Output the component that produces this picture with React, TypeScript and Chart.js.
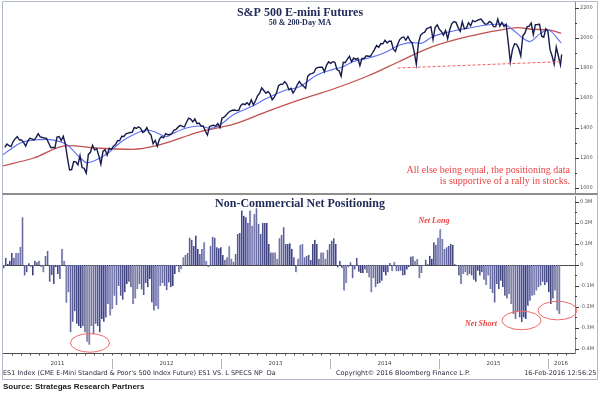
import React, { useEffect, useRef } from "react";
import { Chart, registerables } from "chart.js";

Chart.register(...registerables);

// ---------------- Axis / category data ----------------
const X_MIN = 2011;
const X_MAX = 2016.2477;
const yearLabels = ["2011", "2012", "2013", "2014", "2015", "2016"];
const yearLabelPos = [2011.5, 2012.5, 2013.5, 2014.5, 2015.5, 2016.12];
const yearStarts = [2012, 2013, 2014, 2015, 2016];
const MONTHS = 12;

const priceTicks = [1000, 1200, 1400, 1600, 1800, 2000, 2200];
const priceMinorTicks = [1100, 1300, 1500, 1700, 1900, 2100];
const netTicks = [-0.4, -0.3, -0.2, -0.1, 0, 0.1, 0.2, 0.3];
const netTickLabels = ["-0.4M", "-0.3M", "-0.2M", "-0.1M", "0", "0.1M", "0.2M", "0.3M"];
const netMinorTicks = [-0.35, -0.25, -0.15, -0.05, 0.05, 0.15, 0.25];

// ---------------- ES1 weekly (Friday) values ----------------
const price2011 = [1271, 1293, 1283, 1276, 1310, 1329, 1343, 1320, 1321, 1304, 1279, 1313, 1332, 1328, 1319, 1337, 1363, 1340, 1337, 1333, 1331, 1300, 1270, 1271, 1268, 1339, 1343, 1316, 1345, 1292, 1199, 1120, 1123, 1176, 1174, 1154, 1216, 1136, 1131, 1099, 1224, 1238, 1285, 1253, 1263, 1216, 1159, 1244, 1255, 1219, 1265, 1258];
const price2012 = [1278, 1289, 1315, 1316, 1345, 1343, 1361, 1366, 1370, 1371, 1404, 1397, 1408, 1398, 1370, 1379, 1403, 1369, 1353, 1295, 1318, 1278, 1325, 1343, 1335, 1362, 1355, 1357, 1363, 1386, 1391, 1406, 1418, 1411, 1407, 1438, 1466, 1460, 1441, 1461, 1429, 1433, 1412, 1414, 1380, 1353, 1409, 1416, 1418, 1413, 1430, 1402];
const price2013 = [1466, 1472, 1486, 1503, 1513, 1518, 1520, 1516, 1518, 1551, 1561, 1556, 1569, 1553, 1588, 1555, 1582, 1614, 1633, 1667, 1650, 1631, 1643, 1626, 1588, 1606, 1631, 1680, 1692, 1691, 1709, 1691, 1655, 1664, 1633, 1655, 1688, 1710, 1691, 1678, 1665, 1745, 1759, 1762, 1770, 1798, 1804, 1806, 1805, 1775, 1818, 1841];
const price2014 = [1831, 1842, 1838, 1790, 1782, 1745, 1838, 1836, 1859, 1878, 1841, 1866, 1857, 1865, 1815, 1864, 1863, 1881, 1878, 1878, 1900, 1924, 1950, 1937, 1963, 1961, 1985, 1967, 1978, 1978, 1925, 1910, 1955, 1988, 2003, 2007, 1985, 2010, 1982, 1967, 1906, 1825, 1964, 2018, 2032, 2039, 2063, 2067, 2075, 1990, 2070, 2088];
const price2015 = [2058, 2044, 2019, 2051, 1995, 2055, 2096, 2110, 2104, 2071, 2045, 2108, 2061, 2067, 2102, 2081, 2117, 2108, 2116, 2123, 2126, 2107, 2092, 2094, 2110, 2101, 2076, 2076, 2126, 2079, 2104, 2077, 2091, 1971, 1840, 1921, 1961, 1958, 1931, 1880, 2015, 2033, 2075, 2079, 2099, 2023, 2089, 2090, 2092, 2012, 2005, 2061];
const price2016 = [2044, 1922, 1880, 1825, 1940, 1880, 1820];
const lastPriceDay = 1872; // 16-Feb-2016, days after 1-Jan-2011
const lastPrice = 1890;

// ---------------- Moving averages (decimal year, value) ----------------
const ma50Dates = [2011.0, 2011.06, 2011.16, 2011.28, 2011.4, 2011.52, 2011.59, 2011.71, 2011.77, 2011.89, 2011.98, 2012.07, 2012.19, 2012.32, 2012.41, 2012.5, 2012.56, 2012.69, 2012.81, 2012.9, 2012.99, 2013.11, 2013.29, 2013.42, 2013.57, 2013.72, 2013.88, 2014.03, 2014.12, 2014.21, 2014.34, 2014.49, 2014.64, 2014.76, 2014.83, 2014.94, 2015.1, 2015.26, 2015.44, 2015.59, 2015.68, 2015.77, 2015.83, 2015.93, 2016.0, 2016.12];
const ma50Values = [1222, 1253, 1300, 1320, 1324, 1309, 1287, 1200, 1169, 1200, 1242, 1300, 1353, 1387, 1369, 1342, 1364, 1402, 1413, 1398, 1420, 1487, 1547, 1598, 1647, 1675, 1753, 1791, 1809, 1842, 1864, 1898, 1953, 1969, 1964, 2009, 2042, 2064, 2087, 2093, 2053, 1998, 1976, 2031, 2053, 1967];
const ma200Dates = [2011.0, 2011.28, 2011.59, 2011.89, 2012.19, 2012.41, 2012.81, 2013.11, 2013.42, 2013.72, 2014.03, 2014.34, 2014.64, 2014.94, 2015.26, 2015.56, 2015.72, 2015.86, 2016.02, 2016.12];
const ma200Values = [1147, 1200, 1282, 1265, 1258, 1282, 1376, 1424, 1509, 1587, 1660, 1745, 1845, 1942, 2009, 2053, 2069, 2058, 2053, 2031];

// support line (dashed)
const supportDates = [2014.62, 2016.11];
const supportValues = [1800, 1842];

// ---------------- Non-commercial net positioning (weekly, millions) ----------------
const net2011 = [-0.016, 0.035, 0.006, 0.02, 0.057, 0.035, 0.057, 0.057, 0.087, 0.227, -0.05, -0.035, 0.008, -0.008, -0.05, 0.02, 0.013, 0.02, -0.01, -0.035, 0.043, 0.067, -0.08, -0.048, -0.09, -0.01, -0.043, -0.067, 0.076, 0.02, -0.18, -0.13, -0.32, -0.27, -0.22, -0.28, -0.29, -0.3, -0.29, -0.32, -0.365, -0.38, -0.29, -0.33, -0.28, -0.29, -0.32, -0.257, -0.27, -0.25, -0.186, -0.24];
const net2012 = [-0.21, -0.146, -0.19, -0.1, -0.146, -0.165, -0.13, -0.09, -0.08, -0.106, -0.186, -0.16, -0.114, -0.09, -0.117, -0.143, -0.086, -0.106, -0.067, -0.178, -0.217, -0.195, -0.21, -0.1, -0.086, -0.1, -0.12, -0.083, -0.106, -0.1, -0.043, -0.006, -0.035, -0.02, 0.037, 0.048, 0.057, 0.13, 0.12, 0.09, 0.14, 0.076, 0.052, 0.076, 0.108, 0.02, -0.01, 0.092, 0.135, 0.13, 0.084, 0.08];
const net2013 = [0.084, 0.048, 0.025, 0.037, 0.089, 0.03, 0.016, 0.052, 0.148, 0.152, 0.26, 0.235, 0.227, 0.2, 0.26, 0.187, 0.243, 0.27, 0.195, 0.148, 0.2, 0.2, 0.2, 0.1, 0.06, 0.06, 0.06, 0.03, 0.127, 0.143, 0.18, 0.1, 0.1, 0.103, 0.076, 0.037, -0.035, 0.03, 0.095, 0.1, 0.037, 0.044, 0.048, 0.024, 0.1, 0.12, 0.1, 0.03, 0.06, 0.06, 0.03, 0.073, 0.1];
const net2014 = [0.116, 0.127, 0.1, -0.011, 0.02, -0.016, -0.122, -0.086, -0.011, 0.013, -0.063, -0.022, 0.033, -0.032, -0.038, -0.038, -0.022, -0.038, -0.059, -0.13, -0.063, -0.106, -0.09, -0.086, -0.075, -0.035, -0.05, -0.035, 0.01, -0.03, 0.016, -0.03, -0.03, -0.027, -0.05, -0.048, -0.022, -0.01, 0.04, 0.042, 0.02, 0.028, -0.063, -0.038, -0.005, 0.025, 0.003, 0.044, 0.03, 0.108, 0.095, 0.13];
const net2015 = [0.17, 0.124, 0.076, 0.084, 0.092, 0.1, 0.095, 0.003, -0.005, -0.05, -0.09, -0.043, -0.035, -0.05, -0.043, -0.05, -0.07, -0.08, -0.027, -0.05, -0.035, -0.07, -0.095, -0.05, -0.114, -0.133, -0.178, -0.09, -0.114, -0.075, -0.106, -0.146, -0.159, -0.138, -0.186, -0.233, -0.257, -0.225, -0.25, -0.273, -0.25, -0.257, -0.194, -0.17, -0.146, -0.143, -0.122, -0.106, -0.098, -0.08, -0.095, -0.083];
const net2016 = [-0.13, -0.186, -0.16, -0.122, -0.217, -0.233];

// annotations (data coordinates)
const ellipseCenters = [
  { x: 2011.798, y: -0.371 },
  { x: 2015.757, y: -0.264 },
  { x: 2016.087, y: -0.217 },
];
const netLongAt = { x: 2014.954, y: 0.212, text: "Net Long" };
const netShortAt = { x: 2015.385, y: -0.279, text: "Net Short" };
const noteAt = { x: 2016.202, y: 1103 };
const noteLines = ["All else being equal, the positioning data", "is supportive of a rally in stocks."];

// ---------------- helpers ----------------
const dayToYear = (d: number) => X_MIN + d / 365.25;
const fridayX = (k: number) => dayToYear(6 + 7 * k);
const tuesdayX = (k: number) => dayToYear(3 + 7 * k);

const priceAll = [...price2011, ...price2012, ...price2013, ...price2014, ...price2015, ...price2016];
const priceData = priceAll
  .map((v, k) => ({ x: fridayX(k), y: v }))
  .concat([{ x: dayToYear(lastPriceDay), y: lastPrice }]);
const ma50Data = ma50Dates.map((d, i) => ({ x: d, y: ma50Values[i] }));
const ma200Data = ma200Dates.map((d, i) => ({ x: d, y: ma200Values[i] }));
const supportData = supportDates.map((d, i) => ({ x: d, y: supportValues[i] }));
const netAll = [...net2011, ...net2012, ...net2013, ...net2014, ...net2015, ...net2016];
const netData = netAll.map((v, k) => ({ x: tuesdayX(k), y: v }));

const FRAME = "#b3b9cc";
const NAVY = "#1f2a57";
const RED_TXT = "#ec4343";
const TICK_FONT = "5px 'DejaVu Sans'";

const topDecor = {
  id: "topDecor",
  afterDraw(chart: any) {
    const { ctx, chartArea: a, scales } = chart;
    const x = scales.x;
    const y = scales.y;
    ctx.save();
    ctx.lineWidth = 1;
    ctx.strokeStyle = FRAME;
    ctx.beginPath();
    ctx.moveTo(2.5, 196);
    ctx.lineTo(2.5, 1.5);
    ctx.lineTo(597.5, 1.5);
    ctx.lineTo(597.5, 196);
    ctx.stroke();
    ctx.fillStyle = "#8e8e8e";
    ctx.fillRect(2, 193, 596, 2);

    ctx.strokeStyle = "#3a3a4a";
    ctx.beginPath();
    priceTicks.forEach((v) => {
      const py = Math.round(y.getPixelForValue(v)) + 0.5;
      ctx.moveTo(a.right, py);
      ctx.lineTo(a.right + 4, py);
    });
    priceMinorTicks.forEach((v) => {
      const py = Math.round(y.getPixelForValue(v)) + 0.5;
      ctx.moveTo(a.right, py);
      ctx.lineTo(a.right + 2, py);
    });
    ctx.stroke();

    ctx.fillStyle = "#555";
    ctx.font = TICK_FONT;
    ctx.textAlign = "left";
    ctx.textBaseline = "middle";
    priceTicks.forEach((v) => ctx.fillText(String(v), a.right + 5, y.getPixelForValue(v)));

    ctx.fillStyle = NAVY;
    ctx.textAlign = "center";
    ctx.textBaseline = "alphabetic";
    ctx.font = "bold 12px 'Liberation Serif'";
    ctx.fillText("S&P 500 E-mini Futures", 300, 15.7);
    ctx.font = "bold 8px 'Liberation Serif'";
    ctx.fillText("50 & 200-Day MA", 300, 25);

    ctx.fillStyle = RED_TXT;
    ctx.font = "10px 'Liberation Serif'";
    ctx.textAlign = "right";
    const nx = x.getPixelForValue(noteAt.x);
    const ny = y.getPixelForValue(noteAt.y);
    noteLines.forEach((t, i) => ctx.fillText(t, nx, ny + i * 11.7));
    ctx.restore();
  },
};

const botDecor = {
  id: "botDecor",
  beforeDatasetsDraw(chart: any) {
    const { ctx, chartArea: a, scales } = chart;
    const py = Math.round(scales.y.getPixelForValue(0)) + 0.5;
    ctx.save();
    ctx.strokeStyle = "#4a4a4a";
    ctx.lineWidth = 1;
    ctx.beginPath();
    ctx.moveTo(a.left, py);
    ctx.lineTo(a.right, py);
    ctx.stroke();
    ctx.restore();
  },
  afterDraw(chart: any) {
    const { ctx, chartArea: a, scales } = chart;
    const x = scales.x;
    const y = scales.y;
    ctx.save();
    ctx.lineWidth = 1;
    ctx.strokeStyle = FRAME;
    ctx.beginPath();
    ctx.moveTo(2.5, 0);
    ctx.lineTo(2.5, 185.5);
    ctx.lineTo(597.5, 185.5);
    ctx.lineTo(597.5, 0);
    ctx.stroke();

    // y ticks
    ctx.strokeStyle = "#3a3a4a";
    ctx.beginPath();
    netTicks.forEach((v) => {
      const py = Math.round(y.getPixelForValue(v)) + 0.5;
      ctx.moveTo(a.right, py);
      ctx.lineTo(a.right + 4, py);
    });
    netMinorTicks.forEach((v) => {
      const py = Math.round(y.getPixelForValue(v)) + 0.5;
      ctx.moveTo(a.right, py);
      ctx.lineTo(a.right + 2, py);
    });
    ctx.stroke();
    ctx.fillStyle = "#555";
    ctx.font = TICK_FONT;
    ctx.textAlign = "left";
    ctx.textBaseline = "middle";
    netTicks.forEach((v, i) => ctx.fillText(netTickLabels[i], a.right + 5, y.getPixelForValue(v)));

    // month ticks on the time axis
    ctx.strokeStyle = "#555";
    ctx.beginPath();
    for (let m = 1; X_MIN + m / MONTHS < X_MAX; m++) {
      const px = Math.round(x.getPixelForValue(X_MIN + m / MONTHS)) + 0.5;
      ctx.moveTo(px, a.bottom);
      ctx.lineTo(px, a.bottom + 2.5);
    }
    ctx.stroke();

    // year dividers and labels
    ctx.strokeStyle = "#b5b5b5";
    ctx.beginPath();
    yearStarts.forEach((v) => {
      const px = Math.round(x.getPixelForValue(v)) + 0.5;
      ctx.moveTo(px, a.bottom + 6);
      ctx.lineTo(px, a.bottom + 16);
    });
    ctx.stroke();
    ctx.fillStyle = "#444";
    ctx.font = "5.5px 'DejaVu Sans'";
    ctx.textAlign = "center";
    yearLabels.forEach((t, i) => ctx.fillText(t, x.getPixelForValue(yearLabelPos[i]), a.bottom + 11));

    // title
    ctx.fillStyle = NAVY;
    ctx.textBaseline = "alphabetic";
    ctx.font = "bold 12px 'Liberation Serif'";
    ctx.fillText("Non-Commercial Net Positioning", 300, 12.5);

    // ellipses
    ctx.strokeStyle = "#f06a6a";
    ctx.lineWidth = 1;
    ellipseCenters.forEach((c) => {
      ctx.beginPath();
      ctx.ellipse(x.getPixelForValue(c.x), y.getPixelForValue(c.y), 19.5, 9.3, 0, 0, Math.PI * 2);
      ctx.stroke();
    });

    ctx.fillStyle = RED_TXT;
    ctx.font = "italic bold 8px 'Liberation Serif'";
    ctx.textBaseline = "middle";
    [netLongAt, netShortAt].forEach((n) => ctx.fillText(n.text, x.getPixelForValue(n.x), y.getPixelForValue(n.y)));
    ctx.restore();
  },
};

export default function App() {
  const topRef = useRef<HTMLCanvasElement>(null);
  const botRef = useRef<HTMLCanvasElement>(null);

  useEffect(() => {
    document.body.style.margin = "0";
    const top = new Chart(topRef.current as HTMLCanvasElement, {
      type: "line",
      data: {
        datasets: [
          { label: "Support", data: supportData, borderColor: "#f25b5b", borderWidth: 1, borderDash: [3, 2], pointRadius: 0, order: 0 } as any,
          { label: "ES1", data: priceData, borderColor: "#161b4c", borderWidth: 1.4, pointRadius: 0, tension: 0, order: 1 },
          { label: "50-Day MA", data: ma50Data, borderColor: "#5d70f2", borderWidth: 1.1, pointRadius: 0, cubicInterpolationMode: "monotone", order: 2 },
          { label: "200-Day MA", data: ma200Data, borderColor: "#c2514e", borderWidth: 1.3, pointRadius: 0, cubicInterpolationMode: "monotone", order: 3 },
        ],
      },
      options: {
        responsive: false,
        animation: false,
        events: [],
        layout: { padding: { left: 3, top: 2, right: 0, bottom: 3 } },
        plugins: { legend: { display: false }, tooltip: { enabled: false }, title: { display: false } },
        scales: {
          x: { type: "linear", min: X_MIN, max: X_MAX, display: false },
          y: {
            type: "linear",
            position: "right",
            min: 966.67,
            max: 2240,
            afterBuildTicks: (s: any) => { s.ticks = priceTicks.map((v) => ({ value: v })); },
            afterFit: (s: any) => { s.width = 24; },
            ticks: { display: false },
            grid: { display: false },
            border: { display: true, color: "#7f88a8", width: 1 },
          },
        },
      } as any,
      plugins: [topDecor],
    });

    const bot = new Chart(botRef.current as HTMLCanvasElement, {
      type: "bar",
      data: {
        datasets: [
          {
            label: "Non-Commercial Net Positioning",
            data: netData,
            backgroundColor: "#8e91c0",
            borderColor: "#262a6a",
            borderWidth: { left: 1, right: 0, top: 0, bottom: 0 },
            borderSkipped: false,
            barThickness: 1.6,
          } as any,
        ],
      },
      options: {
        responsive: false,
        animation: false,
        events: [],
        layout: { padding: { left: 3, top: 2, right: 0, bottom: 0 } },
        plugins: { legend: { display: false }, tooltip: { enabled: false }, title: { display: false } },
        scales: {
          x: {
            type: "linear",
            min: X_MIN,
            max: X_MAX,
            offset: false,
            afterFit: (s: any) => { s.height = 41; },
            ticks: { display: false },
            grid: { display: false, drawTicks: false },
            border: { display: true, color: "#4d4d4d", width: 1 },
          },
          y: {
            type: "linear",
            position: "right",
            min: -0.41905,
            max: 0.32857,
            afterBuildTicks: (s: any) => { s.ticks = netTicks.map((v) => ({ value: v })); },
            afterFit: (s: any) => { s.width = 24; },
            ticks: { display: false },
            grid: { display: false },
            border: { display: true, color: "#7f88a8", width: 1 },
          },
        },
      } as any,
      plugins: [botDecor],
    });

    return () => {
      top.destroy();
      bot.destroy();
    };
  }, []);

  const footer: React.CSSProperties = {
    position: "absolute",
    top: 369,
    font: "6.5px 'DejaVu Sans'",
    lineHeight: "9px",
    color: "#2d2d40",
    whiteSpace: "pre",
  };

  return (
    <div style={{ position: "fixed", left: 0, top: 0, width: 599, height: 394, background: "#fff", overflow: "hidden" }}>
      <canvas ref={topRef} width={599} height={196} style={{ position: "absolute", left: 0, top: 0 }} />
      <canvas ref={botRef} width={599} height={200} style={{ position: "absolute", left: 0, top: 194 }} />
      <div style={{ ...footer, left: 3 }}>{"ES1 Index (CME E-Mini Standard & Poor's 500 Index Future) ES1 VS. L SPECS NP  Da"}</div>
      <div style={{ ...footer, left: 336 }}>{"Copyright\u00a9 2016 Bloomberg Finance L.P."}</div>
      <div style={{ ...footer, right: 2.5 }}>{"16-Feb-2016 12:56:25"}</div>
      <div style={{ position: "absolute", left: 3, top: 382, font: "bold 8px 'Liberation Sans'", lineHeight: "10px", color: "#1a1a1a", whiteSpace: "pre" }}>
        {"Source: Strategas Research Partners"}
      </div>
    </div>
  );
}
